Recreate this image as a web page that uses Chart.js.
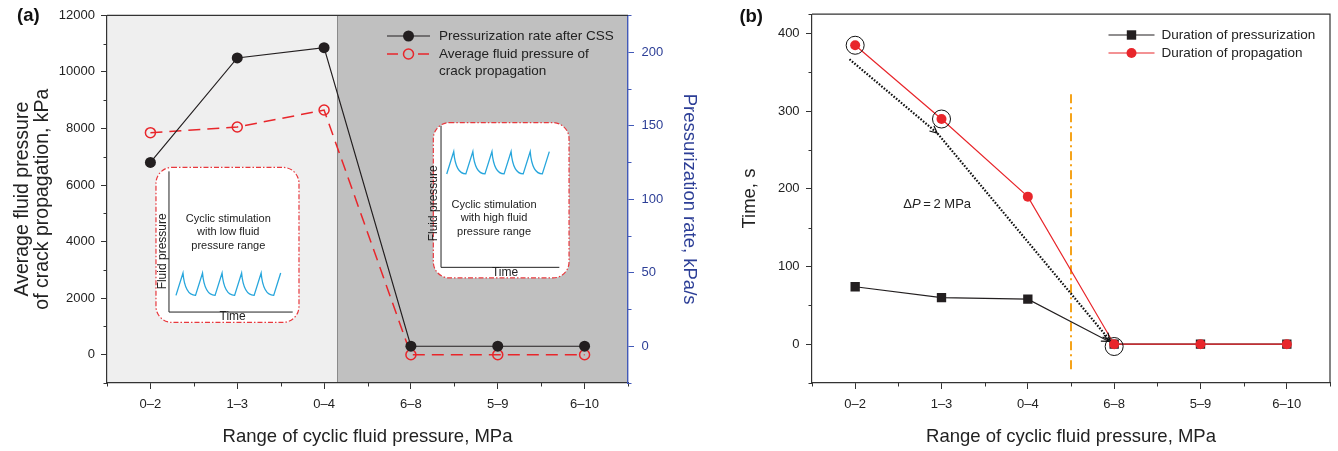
<!DOCTYPE html>
<html lang="en">
<head>
<meta charset="UTF-8">
<title>Cyclic fluid pressure stimulation</title>
<script src="https://cdn.jsdelivr.net/npm/chart.js"></script>
<style>
  html, body { margin: 0; padding: 0; background: #fff; }
  body { width: 1338px; height: 451px; position: relative; overflow: hidden; }
  .panel { position: absolute; top: 0; height: 451px; }
  #wrapA { left: 0; width: 700px; }
  #wrapB { left: 700px; width: 638px; }
</style>
</head>
<body>
<div class="panel" id="wrapA"><canvas id="chartA"></canvas></div>
<div class="panel" id="wrapB"><canvas id="chartB"></canvas></div>
<script>
// ---- data ----
const ranges = ['0–2', '1–3', '0–4', '6–8', '5–9', '6–10'];

// panel (a)
const pressRate = [125, 196, 203, 0, 0, 0];          // kPa/s (right axis)
const crackPressure = [7850, 8050, 8650, 0, 0, 0];   // kPa (left axis)
const shadeFrom = 2.15;                              // start of the high-range zone

// panel (b)
const durPressurization = [74, 60, 58, 0, 0, 0];     // s
const durPropagation = [385, 290, 190, 0, 0, 0];     // s
const ringed = [[0, 385], [1, 290], [3, -3]];
const dottedPath = [[-0.066, 367], [0.95, 272], [2.95, 5]];
const dividerX = 2.5;
const dividerY = [-36, 322];
const deltaLabel = [0.95, 180];

// inset boxes (x in category index, y in left-axis kPa)
const lowInset = { x: [0.064, 1.711], y: [6624, 1143] };
const highInset = { x: [3.258, 4.821], y: [8205, 2714] };

const FONT = "'Liberation Sans', Arial, Helvetica, sans-serif";
const INK = '#231f20';
const AXIS = '#333333';
const TXT = '#222222';
const RED = '#e8262b';
const BLUE = '#2c3e96';
const BLUE_AXIS = '#4259b8';

const toXY = vals => vals.map((v, i) => ({ x: i, y: v }));

const isCat = v => Number.isInteger(v);
const majorL = v => v >= 0 && v % 2000 === 0;
const majorR = v => v >= 0 && v % 50 === 0;
const majorT = v => v >= 0 && v <= 400 && v % 100 === 0;

function xAxis(h) {
  return {
    type: 'linear', min: -0.5, max: 5.5,
    afterFit: s => { s.height = h; },
    grid: { drawOnChartArea: false, tickLength: 6, tickColor: c => isCat(c.tick.value) ? AXIS : 'rgba(0,0,0,0)' },
    border: { color: AXIS, width: 1.2 },
    ticks: {
      stepSize: 0.5, autoSkip: false, maxRotation: 0, padding: 8, color: TXT,
      font: { family: FONT, size: 13 },
      callback: v => isCat(v) ? ranges[v] : ''
    },
    title: {
      display: true, text: 'Range of cyclic fluid pressure, MPa', color: TXT,
      font: { family: FONT, size: 18.5, lineHeight: 1.0 }, padding: { top: 0, bottom: 4.5 }
    }
  };
}

// short minor tick marks
function minorTicks(chart, id, isMajor, len, color) {
  const s = chart.scales[id], ctx = chart.ctx;
  ctx.save();
  ctx.strokeStyle = color; ctx.lineWidth = 1;
  ctx.beginPath();
  s.ticks.forEach(t => {
    if (isMajor(t.value)) return;
    const p = Math.round(s.getPixelForValue(t.value)) + 0.5;
    if (s.position === 'left') { ctx.moveTo(s.right - len, p); ctx.lineTo(s.right, p); }
    else if (s.position === 'right') { ctx.moveTo(s.left, p); ctx.lineTo(s.left + len, p); }
    else { ctx.moveTo(p, s.top); ctx.lineTo(p, s.top + len); }
  });
  ctx.stroke();
  ctx.restore();
}

function roundBox(ctx, x, y, w, h, r) {
  ctx.beginPath();
  ctx.moveTo(x + r, y);
  ctx.lineTo(x + w - r, y); ctx.arcTo(x + w, y, x + w, y + r, r);
  ctx.lineTo(x + w, y + h - r); ctx.arcTo(x + w, y + h, x + w - r, y + h, r);
  ctx.lineTo(x + r, y + h); ctx.arcTo(x, y + h, x, y + h - r, r);
  ctx.lineTo(x, y + r); ctx.arcTo(x, y, x + r, y, r);
  ctx.closePath();
}

function sawWave(ctx, x0, x1, yHi, yLo) {
  const rise = 7, cyc = (x1 - x0 - rise) / 5;
  ctx.beginPath();
  ctx.moveTo(x0, yLo);
  let x = x0;
  for (let i = 0; i < 6; i++) {
    ctx.lineTo(x + rise, yHi);
    if (i < 5) {
      const xe = x + cyc;
      ctx.quadraticCurveTo(x + rise + 2, yLo, xe, yLo);
      x = xe;
    }
  }
  ctx.stroke();
}

function drawInset(chart, box, L, lines) {
  const ctx = chart.ctx, xs = chart.scales.x, ys = chart.scales.yL;
  const x0 = xs.getPixelForValue(box.x[0]), x1 = xs.getPixelForValue(box.x[1]);
  const y0 = ys.getPixelForValue(box.y[0]), y1 = ys.getPixelForValue(box.y[1]);
  ctx.save();
  roundBox(ctx, x0, y0, x1 - x0, y1 - y0, 16);
  ctx.fillStyle = '#ffffff'; ctx.fill();
  ctx.setLineDash([5, 2, 1.5, 2]);
  ctx.strokeStyle = '#e8383d'; ctx.lineWidth = 1.2; ctx.stroke();
  ctx.setLineDash([]);

  const ax = x0 + L.axisX, at = y0 + L.axisTop, ab = y0 + L.axisBottom, ar = x1 - L.axisRight;
  ctx.strokeStyle = '#222'; ctx.lineWidth = 1;
  ctx.beginPath(); ctx.moveTo(ax, at); ctx.lineTo(ax, ab); ctx.lineTo(ar, ab); ctx.stroke();

  ctx.fillStyle = '#222';
  ctx.textAlign = 'center'; ctx.textBaseline = 'middle';
  ctx.font = '12px ' + FONT;
  ctx.fillText('Time', x0 + L.timeX, ab + 5);
  ctx.save();
  ctx.translate(x0 + L.fpX, y0 + L.fpY);
  ctx.rotate(-Math.PI / 2);
  ctx.fillText('Fluid pressure', 0, 0);
  ctx.restore();

  ctx.font = '11px ' + FONT;
  lines.forEach((t, i) => ctx.fillText(t, x0 + L.textX, y0 + L.textY + i * 13.3));

  ctx.strokeStyle = '#27a6dc'; ctx.lineWidth = 1.3;
  sawWave(ctx, x0 + L.waveX0, x0 + L.waveX1, y0 + L.waveHi, y0 + L.waveLo);
  ctx.restore();
}

const layoutLow = { axisX: 13, axisTop: 4, axisBottom: 144.7, axisRight: 6.3, fpX: 6.7, fpY: 84,
  timeX: 76.7, textX: 72.3, textY: 51.7, waveX0: 20, waveX1: 124.7, waveHi: 105.7, waveLo: 128 };
const layoutHigh = { axisX: 7.7, axisTop: 3, axisBottom: 144.7, axisRight: 9.7, fpX: 0.7, fpY: 80.7,
  timeX: 71.7, textX: 60.7, textY: 82.3, waveX0: 13.4, waveX1: 116, waveHi: 29, waveLo: 51.3 };

function panelTag(ctx, text, x, y) {
  ctx.save();
  ctx.font = 'bold 18.5px ' + FONT;
  ctx.fillStyle = '#111'; ctx.textAlign = 'left'; ctx.textBaseline = 'middle';
  ctx.fillText(text, x, y);
  ctx.restore();
}

// ---- panel (a) ----
const panelA = {
  id: 'panelA',
  beforeDraw(chart) {
    const { ctx, chartArea: a, scales } = chart;
    const xs = scales.x.getPixelForValue(shadeFrom);
    ctx.save();
    ctx.fillStyle = '#efefef';
    ctx.fillRect(a.left, a.top, xs - a.left, a.bottom - a.top);
    ctx.fillStyle = '#c0c0c0';
    ctx.fillRect(xs, a.top, a.right - xs, a.bottom - a.top);
    ctx.strokeStyle = '#8a8a8a'; ctx.lineWidth = 1;
    ctx.beginPath(); ctx.moveTo(Math.round(xs) + 0.5, a.top); ctx.lineTo(Math.round(xs) + 0.5, a.bottom); ctx.stroke();
    ctx.restore();
  },
  beforeDatasetsDraw(chart) {
    drawInset(chart, lowInset, layoutLow, ['Cyclic stimulation', 'with low fluid', 'pressure range']);
    drawInset(chart, highInset, layoutHigh, ['Cyclic stimulation', 'with high fluid', 'pressure range']);
  },
  afterDraw(chart) {
    const { ctx, chartArea: a } = chart;
    minorTicks(chart, 'x', isCat, 3.5, AXIS);
    minorTicks(chart, 'yL', majorL, 3.5, AXIS);
    minorTicks(chart, 'yR', majorR, 3.5, BLUE_AXIS);
    ctx.save();
    ctx.strokeStyle = AXIS; ctx.lineWidth = 1.2;
    ctx.beginPath(); ctx.moveTo(a.left, a.top); ctx.lineTo(a.right, a.top); ctx.stroke();

    // legend
    const ds = chart.data.datasets;
    ctx.font = '13.5px ' + FONT; ctx.fillStyle = TXT;
    ctx.textAlign = 'left'; ctx.textBaseline = 'middle';
    ctx.strokeStyle = ds[0].borderColor; ctx.lineWidth = ds[0].borderWidth;
    ctx.beginPath(); ctx.moveTo(387, 36); ctx.lineTo(430, 36); ctx.stroke();
    ctx.fillStyle = ds[0].pointBackgroundColor;
    ctx.beginPath(); ctx.arc(408.5, 36, 5.5, 0, Math.PI * 2); ctx.fill();
    ctx.strokeStyle = ds[1].borderColor; ctx.lineWidth = ds[1].borderWidth;
    ctx.beginPath(); ctx.moveTo(387, 54); ctx.lineTo(398, 54); ctx.moveTo(418, 54); ctx.lineTo(429, 54); ctx.stroke();
    ctx.beginPath(); ctx.arc(408.5, 54, 5, 0, Math.PI * 2); ctx.stroke();
    ctx.fillStyle = TXT;
    ctx.fillText(ds[0].label, 439, 36);
    ctx.fillText('Average fluid pressure of', 439, 54);
    ctx.fillText('crack propagation', 439, 71);
    ctx.restore();
    panelTag(ctx, '(a)', 17, 16);
  }
};

new Chart(document.getElementById('chartA'), {
  type: 'line',
  data: {
    datasets: [
      {
        label: 'Pressurization rate after CSS', data: toXY(pressRate), yAxisID: 'yR', order: 0,
        borderColor: INK, backgroundColor: INK, borderWidth: 1.2,
        pointRadius: 5.5, pointBackgroundColor: INK, pointBorderColor: INK, pointBorderWidth: 0
      },
      {
        label: 'Average fluid pressure of crack propagation', data: toXY(crackPressure), yAxisID: 'yL', order: 1,
        borderColor: RED, backgroundColor: RED, borderWidth: 1.5, borderDash: [12, 7],
        pointRadius: 5, pointBackgroundColor: 'rgba(0,0,0,0)', pointBorderColor: RED, pointBorderWidth: 1.5
      }
    ]
  },
  options: {
    responsive: true, maintainAspectRatio: false, animation: false,
    layout: { padding: { top: 13, left: 0, right: 0, bottom: 0 } },
    plugins: { legend: { display: false }, tooltip: { enabled: false } },
    scales: {
      x: xAxis(68),
      yL: {
        position: 'left', min: -1000, max: 12000,
        afterFit: s => { s.width = 107; },
        grid: { drawOnChartArea: false, tickLength: 6, tickColor: c => majorL(c.tick.value) ? AXIS : 'rgba(0,0,0,0)' },
        border: { color: AXIS, width: 1.2 },
        ticks: { stepSize: 1000, autoSkip: false, padding: 6, color: TXT, font: { family: FONT, size: 13 },
          callback: v => majorL(v) ? v : '' },
        title: { display: true, text: ['Average fluid pressure', 'of crack propagation, kPa'], color: TXT,
          font: { family: FONT, size: 19.5, lineHeight: 1.0 }, padding: { top: 13, bottom: 0 } }
      },
      yR: {
        position: 'right', min: -25, max: 225,
        afterFit: s => { s.width = 72; },
        grid: { drawOnChartArea: false, tickLength: 6, tickColor: c => majorR(c.tick.value) ? BLUE_AXIS : 'rgba(0,0,0,0)' },
        border: { color: BLUE_AXIS, width: 1.4 },
        ticks: { stepSize: 25, autoSkip: false, padding: 7.5, color: BLUE, font: { family: FONT, size: 13 },
          callback: v => majorR(v) ? v : '' },
        title: { display: true, text: 'Pressurization rate, kPa/s', color: BLUE,
          font: { family: FONT, size: 18.5, lineHeight: 1.0 }, padding: { top: 2, bottom: 0 } }
      }
    }
  },
  plugins: [panelA]
});

// ---- panel (b) ----
function arrowHead(ctx, fx, fy, tx, ty, len) {
  const ang = Math.atan2(ty - fy, tx - fx);
  ctx.beginPath();
  ctx.moveTo(tx - len * Math.cos(ang - 0.45), ty - len * Math.sin(ang - 0.45));
  ctx.lineTo(tx, ty);
  ctx.lineTo(tx - len * Math.cos(ang + 0.45), ty - len * Math.sin(ang + 0.45));
  ctx.stroke();
}

const panelB = {
  id: 'panelB',
  beforeDatasetsDraw(chart) {
    const { ctx, scales: { x, y } } = chart;
    const px = x.getPixelForValue(dividerX);
    ctx.save();
    ctx.strokeStyle = '#f5a31a'; ctx.lineWidth = 2;
    ctx.setLineDash([9, 4, 2, 4]);
    ctx.beginPath(); ctx.moveTo(px, y.getPixelForValue(dividerY[1])); ctx.lineTo(px, y.getPixelForValue(dividerY[0])); ctx.stroke();
    ctx.restore();
  },
  afterDatasetsDraw(chart) {
    const { ctx, scales: { x, y } } = chart;
    ctx.save();
    // rings around highlighted points
    ctx.strokeStyle = '#111'; ctx.lineWidth = 1;
    ringed.forEach(([i, v]) => {
      ctx.beginPath(); ctx.arc(x.getPixelForValue(i), y.getPixelForValue(v), 9, 0, Math.PI * 2); ctx.stroke();
    });
    // dotted trend arrow
    const pts = dottedPath.map(([i, v]) => [x.getPixelForValue(i), y.getPixelForValue(v)]);
    ctx.strokeStyle = '#111'; ctx.lineWidth = 2.2;
    ctx.setLineDash([1.6, 1.6]);
    ctx.beginPath(); ctx.moveTo(pts[0][0], pts[0][1]);
    pts.slice(1).forEach(p => ctx.lineTo(p[0], p[1]));
    ctx.stroke();
    ctx.setLineDash([]);
    ctx.lineWidth = 1.2;
    for (let k = 1; k < pts.length; k++) arrowHead(ctx, pts[k - 1][0], pts[k - 1][1], pts[k][0], pts[k][1], 8);
    // arrow tip on the pressurization line
    const a0 = [x.getPixelForValue(2), y.getPixelForValue(durPressurization[2])];
    const a1 = [x.getPixelForValue(3), y.getPixelForValue(durPressurization[3])];
    const d = Math.hypot(a1[0] - a0[0], a1[1] - a0[1]);
    const tip = [a1[0] - (a1[0] - a0[0]) * 6 / d, a1[1] - (a1[1] - a0[1]) * 6 / d];
    arrowHead(ctx, a0[0], a0[1], tip[0], tip[1], 8);

    // ΔP = 2 MPa
    const cx = x.getPixelForValue(deltaLabel[0]), cy = y.getPixelForValue(deltaLabel[1]);
    const fN = '13px ' + FONT, fI = 'italic 13px ' + FONT;
    ctx.textBaseline = 'middle'; ctx.textAlign = 'left'; ctx.fillStyle = TXT;
    ctx.font = fN; const w1 = ctx.measureText('Δ').width, w3 = ctx.measureText('\u2009=\u20092 MPa').width;
    ctx.font = fI; const w2 = ctx.measureText('P').width;
    let sx = cx - (w1 + w2 + w3) / 2;
    ctx.font = fN; ctx.fillText('Δ', sx, cy); sx += w1;
    ctx.font = fI; ctx.fillText('P', sx, cy); sx += w2;
    ctx.font = fN; ctx.fillText('\u2009=\u20092 MPa', sx, cy);
    ctx.restore();
  },
  afterDraw(chart) {
    const { ctx, chartArea: a } = chart;
    minorTicks(chart, 'x', isCat, 3.5, AXIS);
    minorTicks(chart, 'y', majorT, 3.5, AXIS);
    ctx.save();
    ctx.strokeStyle = AXIS; ctx.lineWidth = 1.2;
    ctx.beginPath(); ctx.moveTo(a.left, a.top); ctx.lineTo(a.right, a.top); ctx.lineTo(a.right, a.bottom); ctx.stroke();

    // legend
    const ds = chart.data.datasets;
    ctx.font = '13.5px ' + FONT; ctx.textAlign = 'left'; ctx.textBaseline = 'middle';
    const rows = [[ds[1], 35], [ds[0], 53]];
    rows.forEach(([d, yy]) => {
      ctx.strokeStyle = d.borderColor; ctx.lineWidth = d.borderWidth;
      ctx.beginPath(); ctx.moveTo(408.5, yy); ctx.lineTo(454.5, yy); ctx.stroke();
      ctx.fillStyle = d.pointBackgroundColor;
      if (d.pointStyle === 'rect') ctx.fillRect(431.5 - 4.7, yy - 4.7, 9.4, 9.4);
      else { ctx.beginPath(); ctx.arc(431.5, yy, 5, 0, Math.PI * 2); ctx.fill(); }
      ctx.fillStyle = TXT;
      ctx.fillText(d.label, 461.4, yy);
    });
    ctx.restore();
    panelTag(ctx, '(b)', 39.4, 17);
  }
};

new Chart(document.getElementById('chartB'), {
  type: 'line',
  data: {
    datasets: [
      {
        label: 'Duration of propagation', data: toXY(durPropagation), order: 0,
        borderColor: RED, backgroundColor: RED, borderWidth: 1.2,
        pointRadius: 5, pointStyle: 'circle', pointBackgroundColor: RED, pointBorderColor: RED, pointBorderWidth: 0
      },
      {
        label: 'Duration of pressurization', data: toXY(durPressurization), order: 1,
        borderColor: INK, backgroundColor: INK, borderWidth: 1.2,
        pointRadius: 6.6, pointStyle: 'rect', pointBackgroundColor: INK, pointBorderColor: INK, pointBorderWidth: 0
      }
    ]
  },
  options: {
    responsive: true, maintainAspectRatio: false, animation: false,
    layout: { padding: { top: 13, left: 0, right: 7, bottom: 0 } },
    plugins: { legend: { display: false }, tooltip: { enabled: false } },
    scales: {
      x: xAxis(68),
      y: {
        position: 'left', min: -50, max: 425,
        afterFit: s => { s.width = 112; },
        grid: { drawOnChartArea: false, tickLength: 6, tickColor: c => majorT(c.tick.value) ? AXIS : 'rgba(0,0,0,0)' },
        border: { color: AXIS, width: 1.2 },
        ticks: { stepSize: 50, autoSkip: false, padding: 6.4, color: TXT, font: { family: FONT, size: 13 },
          callback: v => majorT(v) ? v : '' },
        title: { display: true, text: 'Time, s', color: TXT,
          font: { family: FONT, size: 18.5, lineHeight: 1.0 }, padding: { top: 40.75, bottom: 0 } }
      }
    }
  },
  plugins: [panelB]
});
</script>
</body>
</html>
